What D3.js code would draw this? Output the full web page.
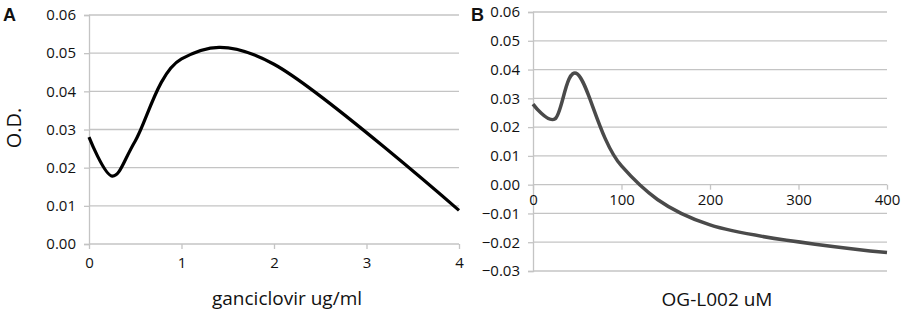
<!DOCTYPE html>
<html>
<head>
<meta charset="utf-8">
<script src="https://cdn.jsdelivr.net/npm/d3@7"></script>
<style>
  body { margin: 0; background: #fff; }
  svg text { font-family: "Open Sans", sans-serif; fill: #111; }
</style>
</head>
<body>
<div class="chart"></div>
<script>
// panel A: ganciclovir
var doseA = [0, 0.25, 0.5, 1, 2, 4];
var odA   = [0.028, 0.0178, 0.027, 0.0485, 0.0471, 0.0088];
var yTicksA = [0, 0.01, 0.02, 0.03, 0.04, 0.05, 0.06];
var xTicksA = [0, 1, 2, 3, 4];

// panel B: OG-L002
var doseB = [0, 25, 50, 100, 200, 400];
var odB   = [0.028, 0.0229, 0.0385, 0.0065, -0.014, -0.0236];
var yTicksB = [-0.03, -0.02, -0.01, 0, 0.01, 0.02, 0.03, 0.04, 0.05, 0.06];
var xTicksB = [0, 100, 200, 300, 400];

var svg = d3.select(".chart").append("svg")
            .attr("width", 905)
            .attr("height", 315);

function drawPanel(opt) {
    var x = d3.scaleLinear().domain(opt.xDomain).range([opt.left, opt.right]);
    var y = d3.scaleLinear().domain(opt.yDomain).range([opt.bottom, opt.top]);
    var g = svg.append("g");

    // gridlines
    g.selectAll(".grid").data(opt.yTicks).enter().append("line")
        .attr("x1", opt.left).attr("x2", opt.right)
        .attr("y1", function(d) { return y(d); })
        .attr("y2", function(d) { return y(d); })
        .attr("stroke", "#c4c4c4").attr("stroke-width", 1.3);

    // y axis
    var yAxis = d3.axisLeft(y).tickValues(opt.yTicks).tickFormat(d3.format(".2f")).tickSize(5);
    var ya = g.append("g").attr("transform", "translate(" + opt.left + ",0)").call(yAxis);
    ya.select(".domain").attr("stroke", "#c4c4c4").attr("stroke-width", 1.3);
    ya.selectAll(".tick line").attr("stroke", "#c4c4c4").attr("stroke-width", 1.3);
    ya.selectAll(".tick text").attr("font-size", 15).attr("x", -13)
        .style("font-family", "'Open Sans', sans-serif").attr("fill", "#111");

    // x axis along zero line
    var xAxis = d3.axisBottom(x).tickValues(opt.xTicks).tickFormat(d3.format("d"))
                  .tickSize(5).tickPadding(opt.xPad);
    var xa = g.append("g").attr("transform", "translate(0," + y(0) + ")").call(xAxis);
    xa.select(".domain").remove();
    xa.selectAll(".tick line").attr("stroke", "#c4c4c4").attr("stroke-width", 1.3);
    xa.selectAll(".tick text").attr("font-size", 15)
        .style("font-family", "'Open Sans', sans-serif").attr("fill", "#111");

    // smoothed line (cardinal, like the spreadsheet "smooth line")
    var line = d3.line()
        .x(function(d) { return x(d[0]); })
        .y(function(d) { return y(d[1]); })
        .curve(d3.curveCardinal.tension(0));
    g.append("path")
        .datum(d3.zip(opt.xs, opt.ys))
        .attr("fill", "none")
        .attr("stroke", opt.color)
        .attr("stroke-width", opt.width)
        .attr("stroke-linejoin", "round")
        .attr("d", line);

    // axis title
    g.append("text")
        .attr("x", opt.titleX).attr("y", opt.titleY)
        .attr("text-anchor", "middle")
        .attr("font-size", 19)
        .text(opt.title);

    // panel letter
    g.append("text")
        .attr("x", opt.letterX).attr("y", 21)
        .attr("font-size", 18).attr("font-weight", "bold")
        .style("font-family", "'Liberation Sans', Arial, sans-serif")
        .text(opt.letter);
}

drawPanel({
    xs: doseA, ys: odA, xTicks: xTicksA, yTicks: yTicksA,
    xDomain: [0, 4], yDomain: [0, 0.06],
    left: 89, right: 459, top: 15, bottom: 244,
    xPad: 8, color: "#000", width: 3.2,
    title: "ganciclovir ug/ml", titleX: 287, titleY: 305,
    letter: "A", letterX: 3
});

drawPanel({
    xs: doseB, ys: odB, xTicks: xTicksB, yTicks: yTicksB,
    xDomain: [0, 400], yDomain: [-0.03, 0.06],
    left: 533, right: 887, top: 12, bottom: 271,
    xPad: 5, color: "#4a4a4a", width: 3.5,
    title: "OG-L002 uM", titleX: 717, titleY: 306,
    letter: "B", letterX: 471
});

// y axis title for panel A
svg.append("text")
    .attr("transform", "translate(21,128) rotate(-90)")
    .attr("text-anchor", "middle")
    .attr("font-size", 20)
    .text("O.D.");
</script>
</body>
</html>
